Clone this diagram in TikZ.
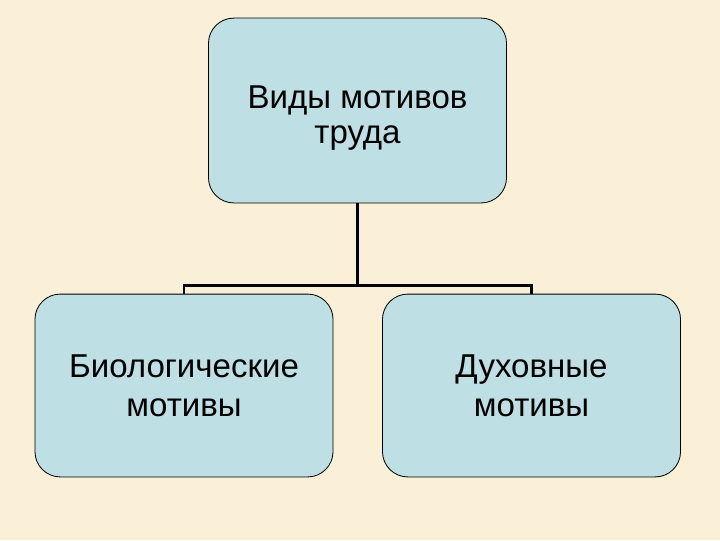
\documentclass[tikz,border=0pt]{standalone}
\usepackage{fontspec}
\setmainfont{Liberation Sans}
\usetikzlibrary{positioning,calc}
\definecolor{paperbg}{RGB}{250,240,215}
\definecolor{boxblue}{RGB}{190,224,228}
\tikzset{
  motbox/.style={draw,line width=0.6pt,rounded corners=18pt,fill=boxblue,
    minimum width=7.45cm,align=center,font=\fontsize{23.5}{27.5}\selectfont},
  linkline/.style={line width=1.8pt}
}
\begin{document}
\begin{tikzpicture}[x=0.025cm,y=-0.025cm]
\fill[paperbg] (0,0) rectangle (720,540);
\useasboundingbox (0,0) rectangle (720,540);
\node[motbox,minimum height=4.62cm] (kinds) at (357.5,110.5)
  {\raisebox{-5.3pt}[\height][\depth]{\begin{tabular}{@{}c@{}}Виды мотивов\\[-2.5pt]труда\end{tabular}}};
\node[motbox,minimum height=4.57cm] (bio) at (184,385.5) {Биологические\\мотивы};
\node[motbox,minimum height=4.57cm] (spirit) at (531.5,385.5) {Духовные\\мотивы};
\coordinate (hub) at ($(kinds.south)+(0,82)$);
\draw[linkline] (kinds.south) -- (hub);
\draw[linkline] (bio.north) |- (hub) -| (spirit.north);
\end{tikzpicture}
\end{document}
